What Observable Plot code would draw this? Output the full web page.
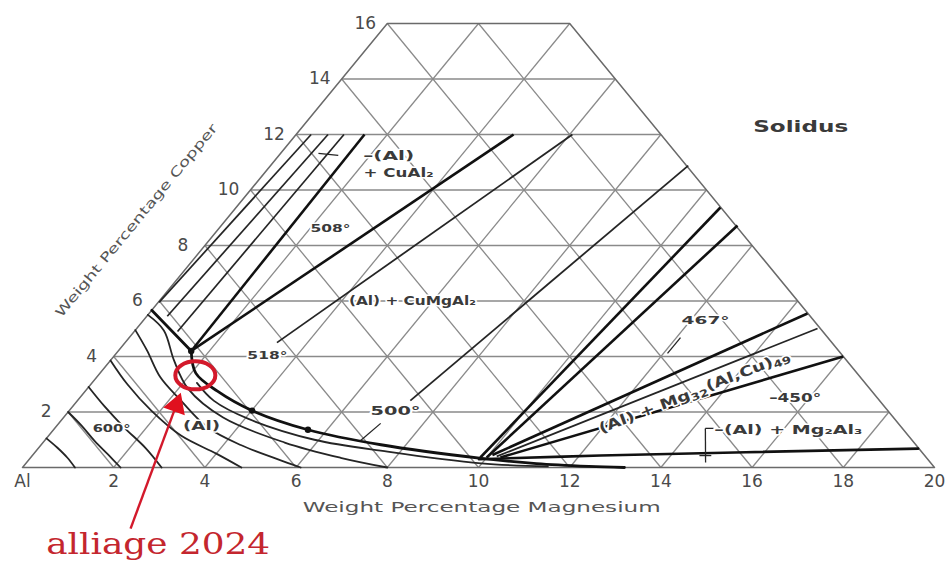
<!DOCTYPE html>
<html><head><meta charset="utf-8">
<script src="https://cdn.jsdelivr.net/npm/d3@7"></script>
<script src="https://cdn.jsdelivr.net/npm/@observablehq/plot@0.6"></script>
<style>html,body{margin:0;padding:0;background:#fff;overflow:hidden}</style>
</head><body><div id="chart"></div>
<script>
// ---------- axis ticks ----------
const mgTicks = [0, 2, 4, 6, 8, 10, 12, 14, 16, 18, 20];
const mgTickLabels = ["Al", "2", "4", "6", "8", "10", "12", "14", "16", "18", "20"];
const cuTicks = [2, 4, 6, 8, 10, 12, 14, 16];
const cuTickLabels = ["2", "4", "6", "8", "10", "12", "14", "16"];

// ---------- triangular grid (wt% Mg, wt% Cu) ----------
const gridCu = [2, 4, 6, 8, 10, 12, 14];
const gridMg = [2, 4, 6, 8, 10, 12, 14, 16, 18];
const gridSum = [2, 4, 6, 8, 10, 12, 14, 16, 18];
const outline = [[0, 0], [20, 0], [4, 16], [0, 16], [0, 0]];

// ---------- isotherms in the (Al) field, points [Mg, Cu] ----------
const iso1 = [[0, 1.05], [0.4, 0.72], [0.8, 0.36], [1.15, 0]];
const iso2 = [[0, 2.0], [0.55, 1.5], [1.1, 0.96], [1.65, 0.46], [2.15, 0]];
const iso3 = [[0, 2.9], [0.7, 2.2], [1.5, 1.45], [2.35, 0.7], [3.05, 0]];
const iso4 = [[0, 3.86], [0.8, 3.0], [1.8, 2.05], [2.9, 1.15], [4.0, 0.5], [4.8, 0]];
const iso5 = [[0, 4.95], [0.62, 4.22], [1.39, 3.26], [2.26, 2.42], [3.33, 1.45], [4.4, 0.8], [5.44, 0.3], [6.1, 0]];
const iso6 = [[0, 5.5], [0.63, 4.94], [1.4, 3.85], [2.2, 2.85], [3.5, 1.8], [5.3, 0.9], [6.8, 0.35], [8.0, 0]];
const iso7 = [[2.3, 3.05], [3.0, 2.4], [4.08, 1.75], [5.9, 1.0], [7.72, 0.57], [9.98, 0.15], [11.5, 0.04]];

// ---------- solidus boundaries ----------
const solidusA = [[0, 5.67], [1.6, 4.2]];
const solidusB = [[1.6, 4.2], [2.1, 3.4], [2.9, 2.75], [4.01, 2.05], [5.58, 1.36], [7.45, 0.82], [9.9, 0.33], [11.2, 0.14], [12.4, 0.04], [13.2, 0]];
const mg2al3Bound = [[9.86, 0.3], [12.46, 0.43], [19.3, 0.68]];
const solidusDots = [[4.01, 2.05], [5.58, 1.36], [1.6, 4.2]];

// ---------- straight phase lines [[Mg,Cu],[Mg,Cu]] ----------
const tieCuAl2 = [[[0.02, 5.95], [0.33, 12]], [[0.45, 5.45], [0.7, 12]], [[0.95, 4.9], [1.05, 12]]];
const boundThick = [
  [[1.6, 4.2], [1.5, 12]], [[1.6, 4.2], [4.77, 12]],
  [[9.86, 0.36], [10.62, 9.37]], [[10.0, 0.36], [11.32, 8.72]],
  [[10.08, 0.45], [14.44, 5.55]], [[10.3, 0.36], [16.0, 4.0]]
];
const boundThin = [[[3.33, 4.5], [6.06, 12]], [[7.3, 2.41], [9.16, 10.88]], [[10.2, 0.4], [14.93, 5.01]]];
const leaders = [
  [[0.83, 11.32], [1.3, 11.25]], [[7.06, 1.59], [6.93, 0.97]], [[12.09, 4.68], [12.09, 4.11]],
  [[14.27, 1.41], [14.89, 0.18]], [[14.27, 1.41], [14.45, 1.41]], [[14.63, 0.43], [14.89, 0.43]]
];

// ---------- labels ----------
const labelText = ["–(Al)", "+ CuAl₂", "508°", "(Al) + CuMgAl₂", "518°", "500°", "600°", "(Al)", "467°", "–450°", "–(Al) + Mg₂Al₃", "Solidus"];
const labelMg = [2.41, 2.93, 2.45, 5.54, 3.35, 7.17, 1.25, 3.17, 12.33, 15.7, 16.11, 10.94];
const labelCu = [11.24, 10.63, 8.61, 6.02, 4.04, 2.02, 1.41, 1.51, 5.3, 2.49, 1.37, 12.25];
const labelSize = [13, 13, 11, 13, 11, 12, 11, 13, 11, 12, 13, 15];
const bandLabel = {text: "(Al) + Mg32(Al,Cu)49", mg: 13.39, cu: 2.7, angle: -21};
const bandParts = [["(Al) + Mg", false], ["32", true], ["(Al,Cu)", false], ["49", true]];

// ---------- alloy annotation ----------
const alloyName = "alliage 2024";
const alloyPoint = [2.13, 3.32];
const arrowTail = [3.47, -2.2];
const arrowHead = [2.25, 2.245];
const alloyTextPos = [4.36, -2.77];

// ---------- titles ----------
const xTitle = {text: "Weight Percentage Magnesium", mg: 10.79, cu: -1.44};
const yTitle = {text: "Weight Percentage Copper", mg: -1.95, cu: 8.9, angle: -50.5};

// text widths as seen (px) -> textLength
const textWidth = {
  "Weight Percentage Magnesium": 358, "Weight Percentage Copper": 246, "Solidus": 95,
  "(Al) + CuMgAl₂": 127, "alliage 2024": 224, "(Al) + Mg32(Al,Cu)49": 204,
  "–(Al) + Mg₂Al₃": 148, "+ CuAl₂": 70, "–(Al)": 51, "(Al)": 37, "518°": 40, "508°": 40,
  "500°": 50, "600°": 38, "467°": 48, "–450°": 52
};

// ---------- helpers ----------
const X = p => p[0] + 0.5 * p[1];
const rows = (list) => list.flatMap((arr, k) => arr.map(p => ({k, mg: p[0], cu: p[1]})));
const xr = d => d.mg + 0.5 * d.cu;

const gridSegs = [
  ...gridCu.map(c => [[0, c], [20 - c, c]]),
  ...gridMg.map(m => [[m, 0], [m, Math.min(16, 20 - m)]]),
  ...gridSum.map(s => [[s, 0], s <= 16 ? [0, s] : [s - 16, 16]])
];
const segLink = (segs, opts) => Plot.link(segs, {
  x1: s => X(s[0]), y1: s => s[0][1], x2: s => X(s[1]), y2: s => s[1][1], ...opts
});

const labels = labelText.map((t, i) => ({t, mg: labelMg[i], cu: labelCu[i], size: labelSize[i]}));
const INK = "#252525";
const TXT = "#3a3a3a";
const RED = "#d3192b";

const chart = Plot.plot({
  width: 950, height: 564, margin: 0,
  style: {fontFamily: "DejaVu Sans", background: "#fff"},
  x: {domain: [0, 20], range: [22, 934], axis: null},
  y: {domain: [0, 16], range: [467, 23], axis: null},
  marks: [
    segLink(gridSegs, {stroke: "#8a8a8a", strokeWidth: 1.3}),
    Plot.line(outline, {x: X, y: p => p[1], stroke: "#6a6a6a", strokeWidth: 1.5}),
    // isotherms
    Plot.line(rows([iso1, iso2, iso3, iso4, iso5, iso6, iso7]), {x: xr, y: "cu", z: "k", curve: "catmull-rom", stroke: INK, strokeWidth: 1.8}),
    // solidus
    Plot.line(rows([solidusA, solidusB]), {x: xr, y: "cu", z: "k", curve: "catmull-rom", stroke: "#111", strokeWidth: 2.8}),
    Plot.line(rows([mg2al3Bound]), {x: xr, y: "cu", z: "k", curve: "catmull-rom", stroke: "#111", strokeWidth: 2.6}),
    segLink(tieCuAl2, {stroke: INK, strokeWidth: 1.7}),
    segLink(boundThick, {stroke: "#111", strokeWidth: 2.6}),
    segLink(boundThin, {stroke: INK, strokeWidth: 1.8}),
    segLink(leaders, {stroke: INK, strokeWidth: 1.3}),
    Plot.dot(solidusDots, {x: X, y: p => p[1], r: 3.2, fill: "#111"}),
    // tick labels
    Plot.text(cuTicks, {x: c => 0.5 * c, y: c => c, text: (c, i) => cuTickLabels[i], dx: -22, fontSize: 17, fill: "#4a4a4a"}),
    Plot.text(mgTicks, {x: m => m, y: () => 0, text: (m, i) => mgTickLabels[i], dy: 14, fontSize: 17, fill: "#4a4a4a"}),
    // titles
    Plot.text([xTitle], {x: d => X([d.mg, d.cu]), y: "cu", text: "text", fontSize: 14, fill: "#555"}),
    Plot.text([yTitle], {x: d => X([d.mg, d.cu]), y: "cu", text: "text", rotate: yTitle.angle, fontSize: 13, fill: "#555"}),
    // region labels
    Plot.text(labels, {x: xr, y: "cu", text: "t", fontSize: "size", fontWeight: "bold", fill: TXT, stroke: "white", strokeWidth: 3, paintOrder: "stroke"}),
    Plot.text([bandLabel], {x: xr, y: "cu", text: "text", rotate: bandLabel.angle, fontSize: 14, fontWeight: "bold", fill: TXT, stroke: "white", strokeWidth: 3, paintOrder: "stroke"}),
    // alloy annotation
    Plot.dot([alloyPoint], {x: X, y: p => p[1], r: 14, stroke: RED, strokeWidth: 4, fill: "none"}),
    Plot.link([[arrowTail, arrowHead]], {x1: s => X(s[0]), y1: s => s[0][1], x2: s => X(s[1]), y2: s => s[1][1], stroke: RED, strokeWidth: 2.4}),
    Plot.dot([arrowHead], {x: X, y: p => p[1], symbol: "triangle", r: 8.5, fill: "#e0101e", rotate: 20}),
    Plot.text([alloyName], {x: () => X(alloyTextPos), y: () => alloyTextPos[1], text: d => d, fontFamily: "DejaVu Serif", fontSize: 30, fill: "#c4262e"})
  ]
});

document.getElementById("chart").appendChild(chart);

// rebuild the band label with real subscripts
d3.select(chart).selectAll("text").each(function () {
  if (this.textContent !== bandLabel.text) return;
  const t = d3.select(this);
  t.text(null);
  let down = false;
  for (const [s, sub] of bandParts) {
    const sp = t.append("tspan").text(s);
    if (sub && !down) { sp.attr("dy", "0.3em").attr("font-size", 10); down = true; }
    else if (sub) { sp.attr("font-size", 10); }
    else if (down) { sp.attr("dy", "-0.3em"); down = false; }
  }
});
// stretch scanned-looking text to the reference widths
d3.select(chart).selectAll("text").each(function () {
  const w = textWidth[this.textContent];
  if (w) { this.setAttribute("textLength", w); this.setAttribute("lengthAdjust", "spacingAndGlyphs"); }
});
// make the alloy circle an ellipse
d3.select(chart).selectAll("circle").each(function () {
  const g = this.parentNode;
  const s = this.getAttribute("stroke") || (g && g.getAttribute("stroke"));
  if (s !== RED) return;
  const cx = +this.getAttribute("cx"), cy = +this.getAttribute("cy");
  this.setAttribute("transform", `translate(${cx},${cy}) scale(1.43,1) translate(${-cx},${-cy})`);
  this.setAttribute("vector-effect", "non-scaling-stroke");
});
</script>
</body></html>
